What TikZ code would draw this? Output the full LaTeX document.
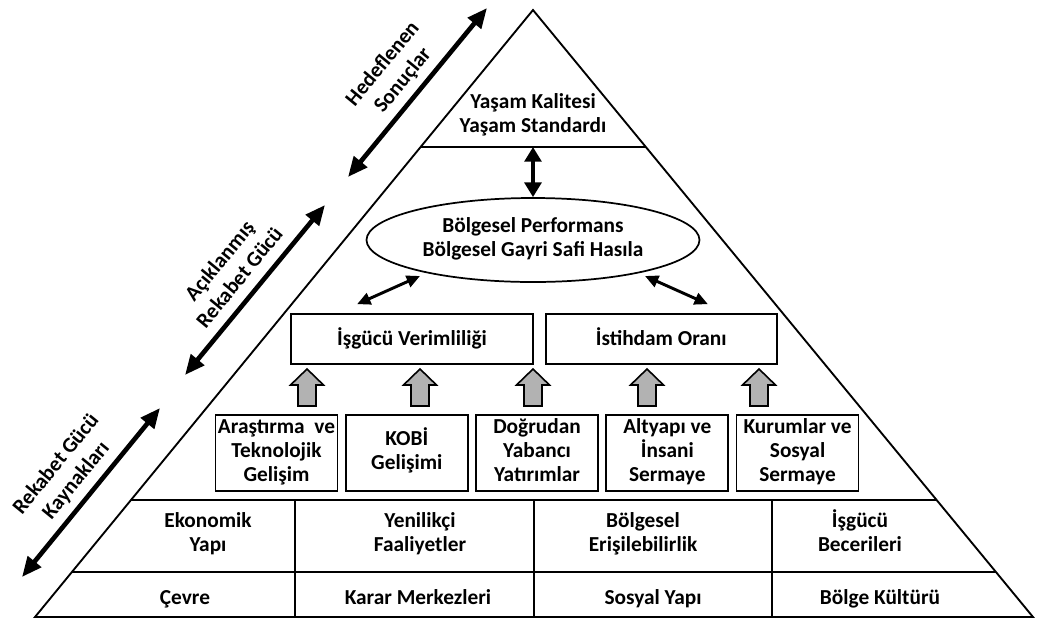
\documentclass[tikz,border=0pt]{standalone}
\usepackage{fontspec}
\setmainfont{Carlito}
\usetikzlibrary{arrows.meta,shapes.geometric,positioning,calc}
\newcommand\tstrut{\rule[-5pt]{0pt}{16pt}}
\tikzset{
  basic/.style    = {font=\bfseries\fontsize{16}{18}\selectfont, align=center, inner sep=0pt},
  cell/.style     = {basic},
  oneline/.style  = {text height=13pt, text depth=3.5pt},
  widebox/.style  = {basic, oneline, draw, line width=1.3pt, minimum height=37.5pt},
  smallbox/.style = {basic, draw, line width=1.3pt, minimum width=91.5pt, minimum height=57pt},
  oval/.style     = {basic, draw, ellipse, line width=1.3pt, minimum width=249.75pt, minimum height=63pt},
  side/.style     = {basic, font=\bfseries\fontsize{16}{19.5}\selectfont, sloped, above=3pt},
  tri/.style      = {line width=1.4pt},
  bigdbl/.style   = {line width=3.5pt, {Triangle[length=15pt,width=12.5pt]}-{Triangle[length=15pt,width=12.5pt]}},
  middbl/.style   = {line width=2.2pt, {Triangle[length=10pt,width=9pt]}-{Triangle[length=10pt,width=9pt]}},
  vdbl/.style     = {line width=3pt, {Triangle[length=11pt,width=12.5pt]}-{Triangle[length=11pt,width=12.5pt]}},
  blockarrow/.style = {draw, line width=1.2pt, fill=gray!60, line join=miter}
}

\begin{document}
\begin{tikzpicture}[x=0.75pt, y=-0.75pt]
\useasboundingbox (0,0) rectangle (1039,619);

% pyramid frame
\coordinate (apex) at (533,10);
\coordinate (bl) at (35,617);
\coordinate (br) at (1033,617);
\draw[tri] (apex) -- (bl) -- (br) -- cycle;
\foreach \t in {0.2257,0.8072,0.9259}
  \draw[tri] ($(apex)!\t!(bl)$) -- ($(apex)!\t!(br)$);
\foreach \x in {295,534,772}
  \draw[tri] (\x,500) -- (\x,617);

% top levels
\node[cell] (yasam) at (533,116) {\tstrut Yaşam Kalitesi\\Yaşam Standardı\tstrut};
\coordinate (tline) at (533,147);
\node[oval] (perf) at (533,240) {\tstrut Bölgesel Performans\\Bölgesel Gayri Safi Hasıla\tstrut};
\draw[vdbl] (tline) -- (perf.north);

% outcome boxes
\node[widebox, minimum width=181.5pt] (verim) at (412,339) {İşgücü Verimliliği};
\node[widebox, minimum width=173.25pt, right=8.25pt of verim] (istih) {İstihdam Oranı};
\draw[middbl] ([shift={(67,-9)}]verim.north west) -- ([shift={(-113,36)}]perf.center);
\draw[middbl] ([shift={(112,36)}]perf.center) -- ([shift={(163,-9)}]istih.north west);

% drivers
\node[smallbox] (k1) at (276.5,453) {\tstrut Araştırma~ ve\\Teknolojik\\Gelişim\tstrut};
\node[smallbox, right=4.9pt of k1] (k2) {\tstrut KOB\smash{İ}\\Gelişimi\tstrut};
\node[smallbox, right=4.9pt of k2] (k3) {\tstrut Doğrudan\\Yabancı\\Yatırımlar\tstrut};
\node[smallbox, right=4.9pt of k3] (k4) {\tstrut Altyapı ve\\\smash{İ}nsani\\Sermaye\tstrut};
\node[smallbox, right=4.9pt of k4] (k5) {\tstrut Kurumlar ve\\Sosyal\\Sermaye\tstrut};

\foreach \x in {307,420,533,647,759}
  \draw[blockarrow] (\x-9,406) -- (\x-9,385) -- (\x-16.5,385) -- (\x,369)
    -- (\x+16.5,385) -- (\x+9,385) -- (\x+9,406) -- cycle;

% base of the pyramid
\node[cell] (ekon) at (208,535) {\tstrut Ekonomik\\Yapı\tstrut};
\node[cell] (yenil) at (420,535) {\tstrut Yenilikçi\\Faaliyetler\tstrut};
\node[cell] (erisim) at (643,535) {\tstrut Bölgesel\\Erişilebilirlik\tstrut};
\node[cell] (becer) at (860,535) {\tstrut\smash{İ}şgücü\\Becerileri\tstrut};
\begin{scope}[every node/.style={cell, oneline}]
\node (cevre) at (185,598) {Çevre};
\node (karar) at (418,598) {Karar Merkezleri};
\node (sosyal) at (653,598) {Sosyal Yapı};
\node (kultur) at (880,598) {Bölge Kültürü};
\end{scope}

% side arrows
\coordinate (h1) at (348,177);
\coordinate (h2) at (487,8);
\coordinate (a1) at (185,375);
\coordinate (a2) at (325,205);
\coordinate (r1) at (22,577);
\coordinate (r2) at (160,408);
\draw[bigdbl] (h1) -- node[side] (hedef) {\tstrut Hedeflenen\\Sonuçlar\tstrut} (h2);
\draw[bigdbl] (a1) -- node[side] (acik) {\tstrut Açıklanmış\\Rekabet Gücü\tstrut} (a2);
\draw[bigdbl] (r1) -- node[side] (kayn) {\tstrut Rekabet Gücü\\Kaynakları\tstrut} (r2);
\end{tikzpicture}
\end{document}
